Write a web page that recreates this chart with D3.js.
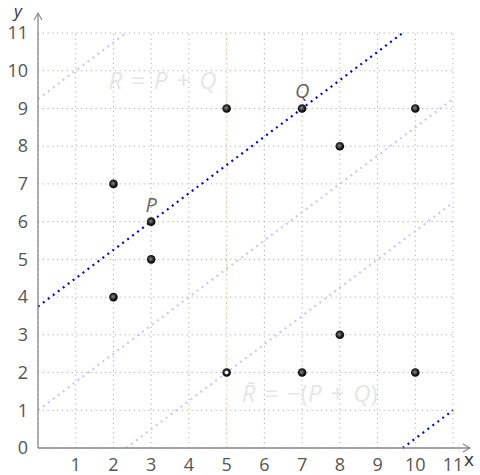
<!DOCTYPE html>
<html>
<head>
<meta charset="utf-8">
<script src="https://cdn.jsdelivr.net/npm/d3@7"></script>
<style>
  body { margin: 0; background: #fff; }
  svg text { font-family: "Open Sans", sans-serif; }
</style>
</head>
<body>
<svg id="chart" width="480" height="475"></svg>
<script>
// curve points over F_11
const ptX = [2, 2, 3, 3, 5, 5, 7, 7, 8, 8, 10, 10];
const ptY = [4, 7, 5, 6, 2, 9, 2, 9, 3, 8, 2, 9];
const xTicks = [1, 2, 3, 4, 5, 6, 7, 8, 9, 10, 11];
const yTicks = [0, 1, 2, 3, 4, 5, 6, 7, 8, 9, 10, 11];
const gridVals = [0, 1, 2, 3, 4, 5, 6, 7, 8, 9, 10, 11];

// line through P and Q, slope 3/4, wrapped in the 11x11 box
const slope = 0.75;
const mainB = [3.75, -7.25];
const faintB = [9.25, 1, -1.75];
const vertX = 5;   // vertical through R and R-bar
const P = [3, 6], Q = [7, 9];
// label pieces: [text, italic, gap before]
const labels = [
  {x: 3.3, y: 9.6, parts: [["R", 1, 0], ["=", 0, 9], ["P", 1, 9], ["+", 0, 9], ["Q", 1, 9]]},
  {x: 7.2, y: 1.3, parts: [["R\u0304", 1, 0], ["=", 0, 9], ["\u2212(", 0, 9], ["P", 1, 0], ["+", 0, 9], ["Q", 1, 9], [")", 0, 0]]}
];

const svg = d3.select("#chart");
const x = d3.scaleLinear().domain([0, 11]).range([38, 453]);
const y = d3.scaleLinear().domain([0, 11]).range([448, 33]);

// clip a line y = slope*x + b to the box [0,11]x[0,11]
function clipLine(b) {
  let x0 = Math.max(0, (0 - b) / slope), x1 = Math.min(11, (11 - b) / slope);
  return [[x0, slope * x0 + b], [x1, slope * x1 + b]];
}

const defs = svg.append("defs");
const grad = defs.append("radialGradient").attr("id", "ball")
  .attr("cx", "45%").attr("cy", "45%").attr("r", "55%");
grad.append("stop").attr("offset", "0%").attr("stop-color", "#8a8a8a");
grad.append("stop").attr("offset", "60%").attr("stop-color", "#222");
grad.append("stop").attr("offset", "100%").attr("stop-color", "#000");

// grid
svg.append("g").selectAll("line.gv").data(gridVals).join("line")
  .attr("x1", d => x(d)).attr("x2", d => x(d))
  .attr("y1", y(0)).attr("y2", y(11))
  .attr("stroke", "#b0b0b0").attr("stroke-width", 1)
  .attr("stroke-dasharray", "1.2,3.6");
svg.append("g").selectAll("line.gh").data(gridVals).join("line")
  .attr("y1", d => y(d)).attr("y2", d => y(d))
  .attr("x1", x(0)).attr("x2", x(11))
  .attr("stroke", "#b0b0b0").attr("stroke-width", 1)
  .attr("stroke-dasharray", "1.2,3.6");

// faint wrapped lines
svg.append("g").selectAll("line").data(faintB.map(clipLine)).join("line")
  .attr("x1", d => x(d[0][0])).attr("y1", d => y(d[0][1]))
  .attr("x2", d => x(d[1][0])).attr("y2", d => y(d[1][1]))
  .attr("stroke", "#c8c8ff").attr("stroke-width", 2.2)
  .attr("stroke-dasharray", "2,4.2");

// vertical line x = 5
svg.append("line")
  .attr("x1", x(vertX)).attr("x2", x(vertX))
  .attr("y1", y(0)).attr("y2", y(11))
  .attr("stroke", "#fde3d0").attr("stroke-width", 2)
  .attr("stroke-dasharray", "2,2.4");

// main line
svg.append("g").selectAll("line").data(mainB.map(clipLine)).join("line")
  .attr("x1", d => x(d[0][0])).attr("y1", d => y(d[0][1]))
  .attr("x2", d => x(d[1][0])).attr("y2", d => y(d[1][1]))
  .attr("stroke", "#0000ff").attr("stroke-width", 2.2)
  .attr("stroke-dasharray", "2,4.2");

// axes
const axisCol = "#888";
svg.append("line").attr("x1", x(0)).attr("y1", y(0)).attr("x2", 470).attr("y2", y(0))
  .attr("stroke", axisCol).attr("stroke-width", 1.3);
svg.append("path").attr("d", `M463,${y(0) - 4} L470,${y(0)} L463,${y(0) + 4}`)
  .attr("fill", "none").attr("stroke", axisCol).attr("stroke-width", 1.1);
svg.append("line").attr("x1", x(0)).attr("y1", y(0)).attr("x2", x(0)).attr("y2", 13)
  .attr("stroke", axisCol).attr("stroke-width", 1.3);
svg.append("path").attr("d", `M${x(0) - 4},20 L${x(0)},13 L${x(0) + 4},20`)
  .attr("fill", "none").attr("stroke", axisCol).attr("stroke-width", 1.1);

svg.append("text").text("x").attr("x", 464).attr("y", 466)
  .attr("font-size", 19).attr("fill", "#333");
svg.append("text").text("y").attr("x", 14).attr("y", 17)
  .attr("font-size", 17).attr("font-style", "italic").attr("fill", "#333");

// tick labels
svg.append("g").selectAll("text").data(xTicks).join("text")
  .attr("x", d => x(d)).attr("y", 471)
  .attr("text-anchor", "middle").attr("font-size", 18).attr("fill", "#555")
  .text(d => d);
svg.append("g").selectAll("text").data(yTicks).join("text")
  .attr("x", 28).attr("y", d => y(d))
  .attr("dy", "0.35em")
  .attr("text-anchor", "end").attr("font-size", 18).attr("fill", "#555")
  .text(d => d);

// points
const pts = ptX.map((v, i) => [v, ptY[i]]);
svg.append("g").selectAll("circle").data(pts).join("circle")
  .attr("cx", d => x(d[0])).attr("cy", d => y(d[1]))
  .attr("r", 4.3).attr("fill", "url(#ball)");
// R-bar point has a light centre
svg.append("circle").attr("cx", x(5)).attr("cy", y(2)).attr("r", 1.8).attr("fill", "#fff");

// labels
svg.append("text").text("P").attr("x", x(P[0])).attr("y", y(P[1]) - 10)
  .attr("text-anchor", "middle").attr("font-size", 20).attr("font-style", "italic").attr("fill", "#666");
svg.append("text").text("Q").attr("x", x(Q[0])).attr("y", y(Q[1]) - 10)
  .attr("text-anchor", "middle").attr("font-size", 20).attr("font-style", "italic").attr("fill", "#666");
svg.append("g").selectAll("text").data(labels).join("text")
  .attr("x", d => x(d.x)).attr("y", d => y(d.y) + 3)
  .attr("text-anchor", "middle").attr("font-size", 24)
  .attr("fill", "#e6e6e6")
  .selectAll("tspan").data(d => d.parts).join("tspan")
  .attr("dx", d => d[2])
  .attr("font-style", d => d[1] ? "italic" : "normal")
  .text(d => d[0]);
</script>
</body>
</html>
